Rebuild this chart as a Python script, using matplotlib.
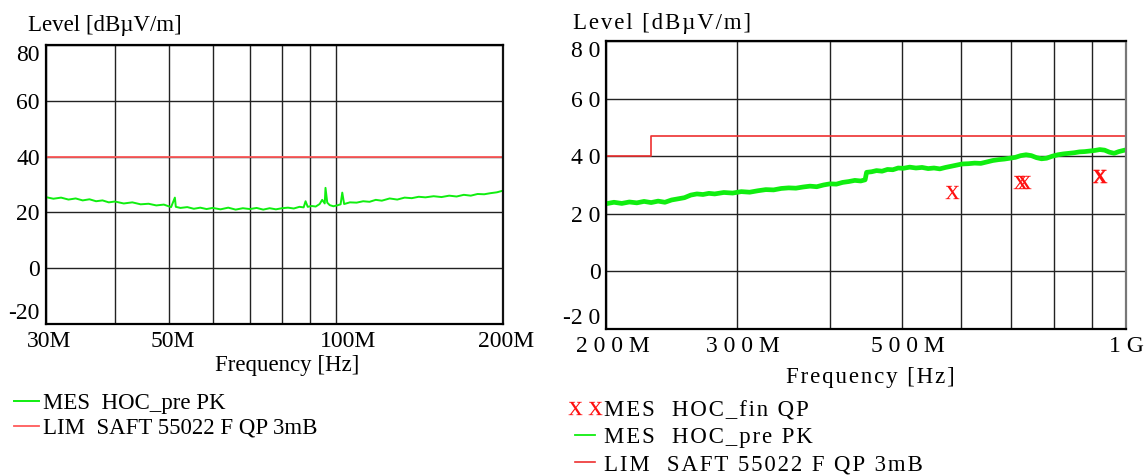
import matplotlib
matplotlib.use("Agg")
import matplotlib.pyplot as plt
from matplotlib.transforms import ScaledTranslation

plt.rcParams['font.family'] = ['Liberation Serif', 'DejaVu Serif']
plt.rcParams['mathtext.fontset'] = 'custom'
plt.rcParams['mathtext.rm'] = 'Liberation Serif'

# --- 30 MHz .. 200 MHz sweep (peak) ---
lo_freq = [30, 31, 32, 33, 34, 35, 36, 37, 38, 39, 40,
           41.5, 43, 44.5, 46, 47.5, 49,
           50.5, 51.3, 51.5, 52.5, 54, 55.5, 57, 58.5,
           60, 62, 64, 66, 68, 70, 72, 74, 76, 78, 80,
           82, 84, 86, 87.5, 88.2, 89, 90.5, 92, 93.5, 94.5, 95.5, 95.8, 96.5, 97.5, 99,
           100.5, 102, 102.7, 103.5, 106, 109, 112, 115, 118, 121,
           125, 129, 133, 137, 141, 145, 150, 155, 160, 165, 170, 175, 180, 185, 190, 195, 200]
lo_level = [25.5, 24.9, 25.3, 24.6, 25.0, 24.3, 24.7, 24.0, 24.3, 23.6, 23.9,
            23.2, 23.6, 22.9, 23.1, 22.5, 22.8,
            21.9, 25.3, 22.0, 21.6, 21.9, 21.3, 21.7, 21.2,
            21.6, 21.1, 21.7, 21.0, 21.5, 21.2, 21.6, 21.0, 21.5, 21.1, 21.5,
            21.7, 21.4, 22.0, 21.8, 24.0, 22.0, 22.3, 22.1, 23.0, 24.5, 23.2, 28.8, 23.5, 22.6, 22.2,
            22.5, 22.9, 27.1, 23.0, 23.6, 23.5, 24.0, 23.8, 24.5, 24.2,
            25.0, 24.6, 25.3, 25.1, 25.6, 25.4, 25.8, 25.5, 26.0, 25.7, 26.3, 26.0, 26.6, 26.5, 26.9, 27.2, 27.8]
lo_lim_freq = [30, 200]
lo_lim_level = [40, 40]

# --- 200 MHz .. 1 GHz sweep (peak) ---
hi_freq = [200, 205, 210, 215, 220, 225, 230, 235, 240, 245, 250, 255, 260, 265, 270, 275, 280,
           288, 296, 304, 312, 320, 328, 336, 344, 352, 360, 368, 376, 384, 392, 400, 408, 416, 424, 432, 440,
           446, 448,
           455, 462, 470, 478, 486, 494, 502,
           512, 522, 532, 542, 552, 562, 572, 582, 592, 602,
           614, 626, 638, 650, 662, 674, 686, 698, 710, 722, 734, 746, 758, 770, 782,
           796, 810, 824, 838, 852, 866, 880, 894, 908, 922, 936, 950, 964, 978, 992,
           1000]
hi_level = [23.5, 24.0, 23.6, 24.1, 23.8, 24.3, 23.9, 24.4, 24.0, 24.8, 25.2, 25.6, 26.5, 26.9, 26.7, 27.1, 26.9,
            27.4, 27.2, 27.7, 27.5, 28.0, 28.4, 28.3, 28.8, 29.0, 28.9, 29.3, 29.6, 29.4, 30.0, 30.4, 30.3, 30.9, 31.2, 31.6, 31.4,
            31.8, 34.4,
            34.6, 35.0, 34.8, 35.4, 35.3, 35.9, 35.8,
            36.2, 35.9, 36.1, 35.7, 35.9, 35.6, 36.1, 36.5, 36.9, 37.3,
            37.4, 37.6, 37.5, 38.0, 38.5, 38.8, 39.0, 39.3, 39.6, 40.2, 40.5, 40.2, 39.5, 39.1, 39.3,
            40.0, 40.5, 40.8, 41.0, 41.2, 41.5, 41.6, 41.8, 42.0, 42.3, 42.1, 41.4, 41.0, 41.6, 42.0,
            42.2]
hi_lim_freq = [200, 230, 230, 1000]
hi_lim_level = [40, 40, 47, 47]

# final quasi-peak measurements
qp_freq = [584, 720, 730, 920, 924]
qp_level = [27.6, 31.0, 31.0, 33.0, 33.0]

y_ticks = [-20, 0, 20, 40, 60, 80]
lo_major = [30, 50, 100, 200]
lo_major_lbl = ['30M', '50M', '100M', '200M']
lo_minor = [40, 60, 70, 80, 90]
hi_major = [200, 300, 500, 1000]
hi_major_lbl = ['2 0 0 M', '3 0 0 M', '5 0 0 M', '1 G']
hi_minor = [400, 600, 700, 800, 900]

GREEN = '#10ee10'
RED_LO = '#ff5a5a'
RED_HI = '#ee3030'
FS = 16.5
TFS = 17
HS = '\u200a'


def spaced(s):
    return HS.join(s)


W, H = 1148, 475
fig = plt.figure(figsize=(W / 100, H / 100), dpi=100)


def px_axes(x0, y0, x1, y1):
    return fig.add_axes([x0 / W, 1 - y1 / H, (x1 - x0) / W, (y1 - y0) / H])


def style(ax, fmin, fmax, major, major_lbl, minor, ylbl, xshift, right_col):
    ax.set_xscale('log')
    ax.set_xlim(fmin * 1e6, fmax * 1e6)
    ax.set_ylim(-20, 80)
    ax.set_xticks([f * 1e6 for f in major])
    ax.set_xticklabels(major_lbl)
    ax.set_xticks([f * 1e6 for f in minor], minor=True)
    ax.set_xticklabels([], minor=True)
    ax.set_yticks(y_ticks)
    ax.set_yticklabels(ylbl)
    ax.tick_params(which='both', length=0, labelsize=TFS)
    ax.tick_params(axis='y', pad=4)
    ax.tick_params(axis='x', pad=5)
    # keep the end labels inside the frame height
    ylabels = ax.get_yticklabels()
    ylabels[0].set_va('bottom')
    ylabels[-1].set_va('top')
    # frequency labels sit a little right of their grid line
    for lbl, dx in zip(ax.get_xticklabels(), xshift):
        lbl.set_transform(lbl.get_transform() + ScaledTranslation(dx / 100, 0, fig.dpi_scale_trans))
    ax.grid(True, which='both', color='#222222', lw=1.0)
    ax.set_axisbelow(True)
    for s in ax.spines.values():
        s.set_linewidth(1.6)
        s.set_color('black')
    ax.spines['right'].set_color(right_col)


# left panel
ax1 = px_axes(45.5, 45, 503, 324)
style(ax1, 30, 200, lo_major, lo_major_lbl, lo_minor, [str(v) for v in y_ticks], [4, 4, 12, 3], '#111111')
l_pk, = ax1.plot([f * 1e6 for f in lo_freq], lo_level, color=GREEN, lw=1.4)
l_lim, = ax1.plot([f * 1e6 for f in lo_lim_freq], lo_lim_level, color=RED_LO, lw=1.3)

fig.text(28 / W, 1 - 25 / H, 'Level [dBµV/m]', fontsize=FS, va='center', ha='left')
fig.text(287 / W, 1 - 366 / H, 'Frequency [Hz]', fontsize=FS, va='center', ha='center')

fig.legend([l_pk, l_lim], ['MES  HOC_pre PK', 'LIM  SAFT 55022 F QP 3mB'],
           loc='upper left', bbox_to_anchor=(14 / W, 1 - 393 / H), frameon=False,
           fontsize=FS, handlelength=1.1, handletextpad=0.15, labelspacing=0.16,
           borderpad=0, borderaxespad=0)

# right panel
ax2 = px_axes(606, 41, 1126, 329)
ylbl_hi = [('-' + ' '.join(str(-v))) if v < 0 else ' '.join(str(v)) for v in y_ticks]
style(ax2, 200, 1000, hi_major, hi_major_lbl, hi_minor, ylbl_hi, [7, 6, 6, 0], '#777777')
h_pk, = ax2.plot([f * 1e6 for f in hi_freq], hi_level, color=GREEN, lw=3.4)
h_lim, = ax2.plot([f * 1e6 for f in hi_lim_freq], hi_lim_level, color=RED_HI, lw=1.2)
h_qp, = ax2.plot([f * 1e6 for f in qp_freq], qp_level, ls='none', marker=r'$\mathrm{x}$',
                 ms=10, mew=0, color='#ff1010')

fig.text(573 / W, 1 - 24 / H, spaced('Level [dBµV/m]'), fontsize=FS, va='center', ha='left')
fig.text(870 / W, 1 - 377 / H, spaced('Frequency [Hz]'), fontsize=FS, va='center', ha='center')

leg = fig.legend([h_qp, h_pk, h_lim],
                 [spaced('MES  HOC_fin QP'), spaced('MES  HOC_pre PK'), spaced('LIM  SAFT 55022 F QP 3mB')],
                 loc='upper left', bbox_to_anchor=(568 / W, 1 - 400 / H), frameon=False,
                 fontsize=FS, handlelength=1.48, handletextpad=0.08, labelspacing=0.26,
                 numpoints=2, borderpad=0, borderaxespad=0)
leg.legend_handles[1].set_linewidth(1.3)

fig.savefig('out.png', dpi=100)
